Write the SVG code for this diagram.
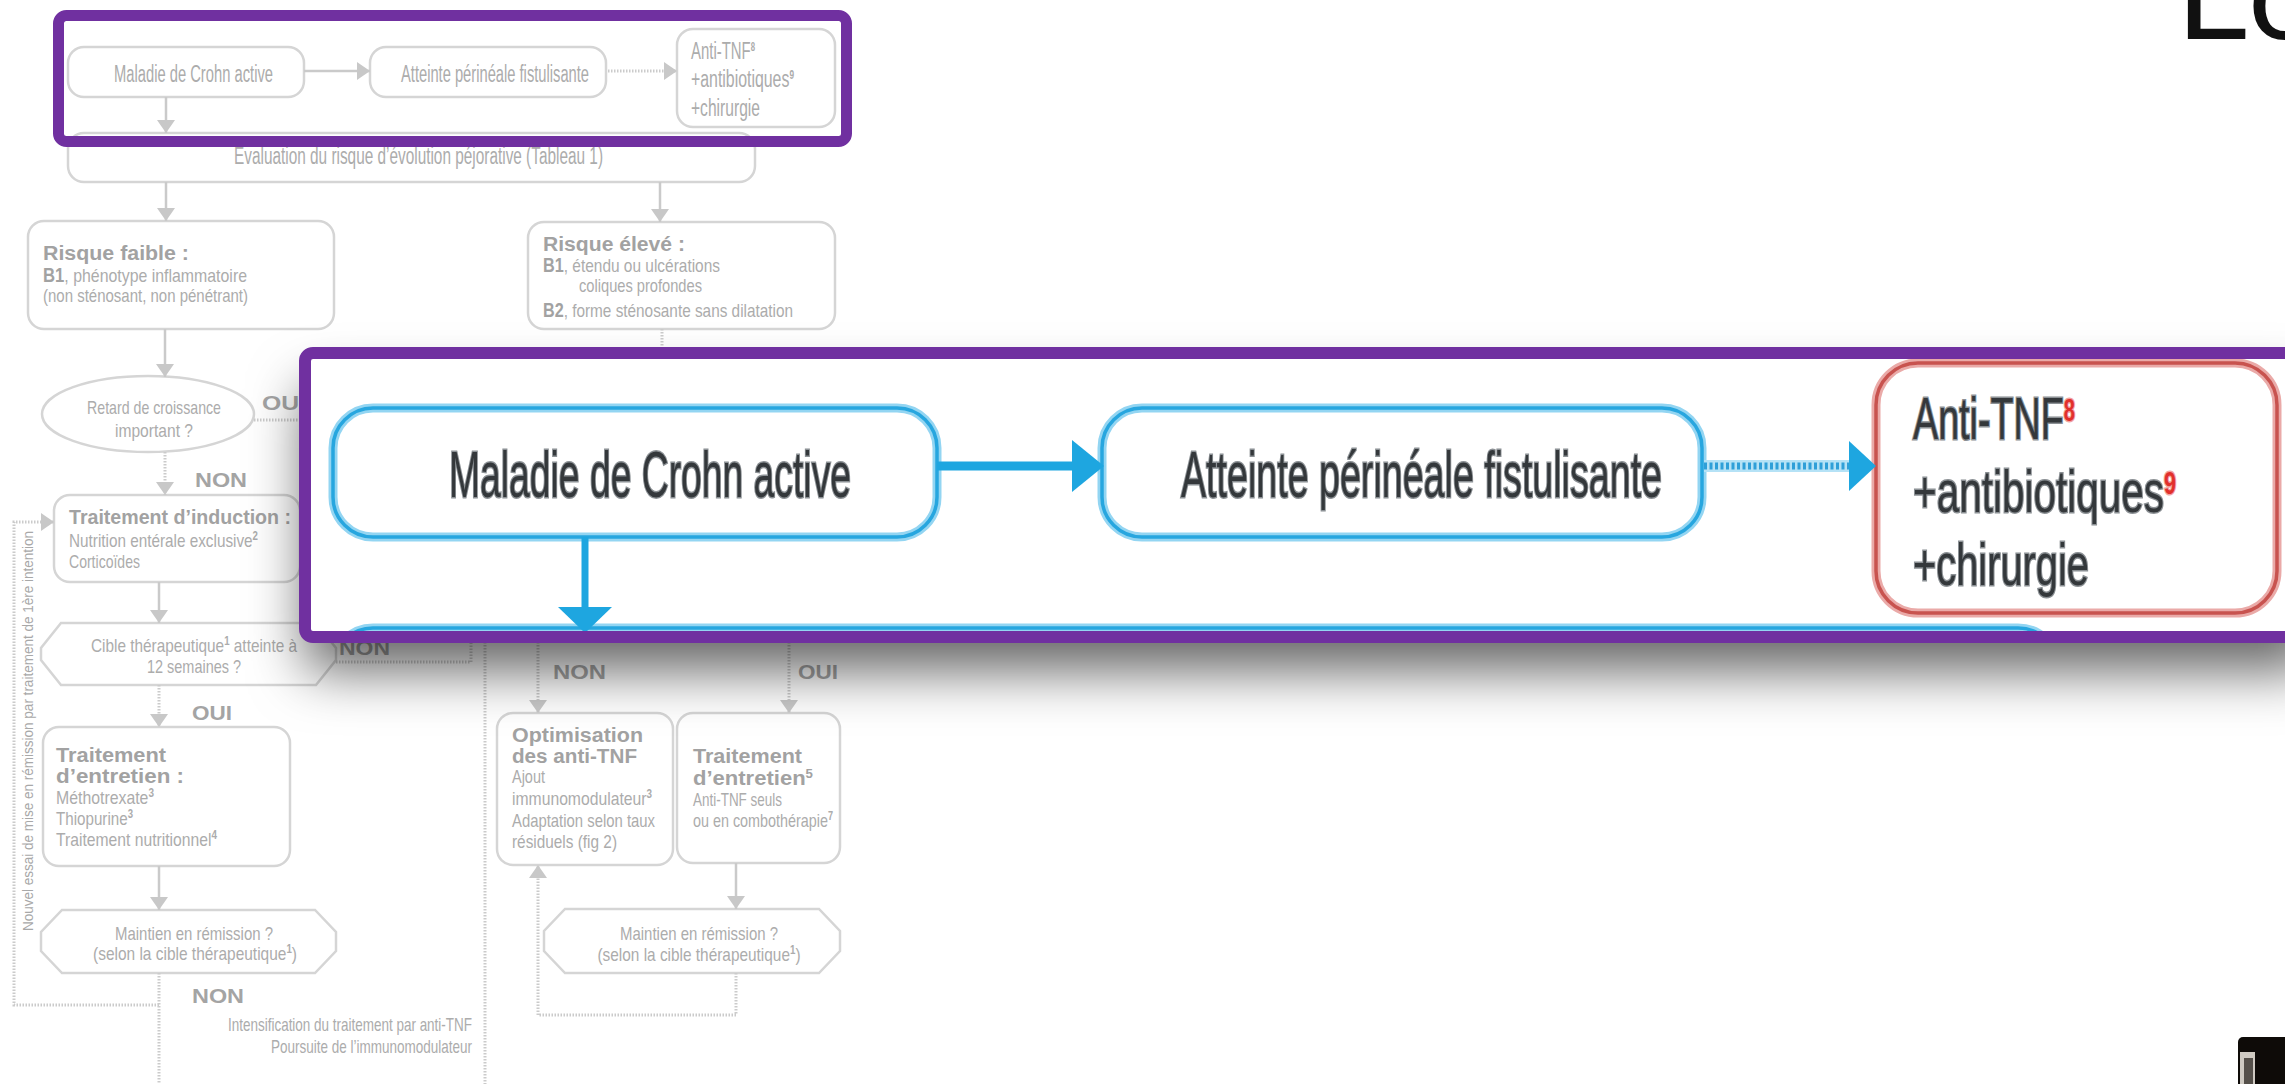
<svg xmlns="http://www.w3.org/2000/svg" width="2285" height="1084" viewBox="0 0 2285 1084">
<defs>
<style>
.bx{fill:#fff;stroke:#d5d5d5;stroke-width:2.5}
.t{font-family:"Liberation Sans",Arial,sans-serif;font-size:19px;fill:#acacac}
.tl{font-family:"Liberation Sans",Arial,sans-serif;font-size:23px;fill:#acacac}
.tb{font-family:"Liberation Sans",Arial,sans-serif;font-size:20px;font-weight:bold;fill:#a2a2a2}
.lb{font-family:"Liberation Sans",Arial,sans-serif;font-size:21px;font-weight:bold;fill:#a4a4a4}
.b{font-weight:bold;font-size:20px;fill:#a2a2a2}
.sup{font-size:12px;font-weight:bold}
.ln{fill:none;stroke:#cacaca;stroke-width:2.5}
.dt{fill:none;stroke:#cbcbcb;stroke-width:3;stroke-dasharray:1.5 1.5}
.rot{font-family:"Liberation Sans",Arial,sans-serif;font-size:15px;fill:#a8a8a8}
.cb{fill:#fff;stroke:#93d5f2;stroke-width:9}
.cbl{fill:none;stroke:#27a6df;stroke-width:3.5}
.cr{fill:#fff;stroke:#eaaaa8;stroke-width:9}
.crl{fill:none;stroke:#c8534f;stroke-width:3.5}
.ct{font-family:"Liberation Sans",Arial,sans-serif;font-size:64px;fill:#34383b;stroke:#8c9195;stroke-width:3;paint-order:stroke}
.cs{fill:#e2302c;stroke:#f1a3a1;font-weight:bold}
.ca{fill:#1ea6e0}
.frame{fill:none;stroke:#7030a0}
</style>
<marker id="ah" markerUnits="userSpaceOnUse" markerWidth="14" markerHeight="20" refX="13" refY="10" orient="auto">
<path d="M0,1 L13,10 L0,19 z" fill="#c8c8c8"/>
</marker>
<filter id="sh" x="-5%" y="-40%" width="110%" height="200%">
<feDropShadow dx="0" dy="34" stdDeviation="27" flood-color="#000" flood-opacity="0.6"/>
</filter>
<clipPath id="loupeClip"><rect x="305" y="353" width="1990" height="284"/></clipPath>
</defs>

<rect width="2285" height="1084" fill="#fff"/>

<!-- faded flowchart: nodes -->
<g id="n-crohn"><rect class="bx" x="68" y="47" width="236" height="50" rx="16"/>
<text class="tl" x="114" y="82" textLength="159" lengthAdjust="spacingAndGlyphs">Maladie de Crohn active</text></g>
<g id="n-perineale"><rect class="bx" x="370" y="47" width="236" height="50" rx="16"/>
<text class="tl" x="401" y="82" textLength="188" lengthAdjust="spacingAndGlyphs">Atteinte périnéale fistulisante</text></g>
<g id="n-antitnf"><rect class="bx" x="677" y="29" width="158" height="98" rx="16"/>
<text class="tl" x="691" y="59" textLength="64" lengthAdjust="spacingAndGlyphs">Anti-TNF<tspan class="sup" dy="-8">8</tspan></text>
<text class="tl" x="691" y="87" textLength="103" lengthAdjust="spacingAndGlyphs">+antibiotiques<tspan class="sup" dy="-8">9</tspan></text>
<text class="tl" x="691" y="116" textLength="69" lengthAdjust="spacingAndGlyphs">+chirurgie</text></g>
<g id="n-evaluation"><rect class="bx" x="68" y="133" width="687" height="49" rx="16"/>
<text class="tl" x="234" y="164" textLength="369" lengthAdjust="spacingAndGlyphs">Évaluation du risque d’évolution péjorative (Tableau 1)</text></g>
<g id="n-risque-faible"><rect class="bx" x="28" y="221" width="306" height="108" rx="16"/>
<text class="tb" x="43" y="260" textLength="146" lengthAdjust="spacingAndGlyphs">Risque faible :</text>
<text class="t" x="43" y="282" textLength="204" lengthAdjust="spacingAndGlyphs"><tspan class="b">B1</tspan>, phénotype inflammatoire</text>
<text class="t" x="43" y="302" textLength="205" lengthAdjust="spacingAndGlyphs">(non sténosant, non pénétrant)</text></g>
<g id="n-risque-eleve"><rect class="bx" x="528" y="222" width="307" height="107" rx="16"/>
<text class="tb" x="543" y="251" textLength="142" lengthAdjust="spacingAndGlyphs">Risque élevé :</text>
<text class="t" x="543" y="272" textLength="177" lengthAdjust="spacingAndGlyphs"><tspan class="b">B1</tspan>, étendu ou ulcérations</text>
<text class="t" x="579" y="292" textLength="123" lengthAdjust="spacingAndGlyphs">coliques profondes</text>
<text class="t" x="543" y="317" textLength="250" lengthAdjust="spacingAndGlyphs"><tspan class="b">B2</tspan>, forme sténosante sans dilatation</text></g>
<g id="n-retard"><ellipse class="bx" cx="148" cy="414" rx="106" ry="38"/>
<text class="t" x="154" y="414" text-anchor="middle" textLength="134" lengthAdjust="spacingAndGlyphs">Retard de croissance</text>
<text class="t" x="154" y="437" text-anchor="middle" textLength="78" lengthAdjust="spacingAndGlyphs">important ?</text></g>
<g id="n-induction"><rect class="bx" x="54" y="495" width="246" height="87" rx="16"/>
<text class="tb" x="69" y="524" textLength="222" lengthAdjust="spacingAndGlyphs">Traitement d’induction :</text>
<text class="t" x="69" y="547" textLength="189" lengthAdjust="spacingAndGlyphs">Nutrition entérale exclusive<tspan class="sup" dy="-7">2</tspan></text>
<text class="t" x="69" y="568" textLength="71" lengthAdjust="spacingAndGlyphs">Corticoïdes</text></g>
<g id="n-cible"><polygon class="bx" points="61,623 316,623 336,648 336,660 316,685 61,685 41,660 41,648"/>
<text class="t" x="194" y="652" text-anchor="middle" textLength="206" lengthAdjust="spacingAndGlyphs">Cible thérapeutique<tspan class="sup" dy="-7">1</tspan><tspan dy="7"> atteinte à</tspan></text>
<text class="t" x="194" y="673" text-anchor="middle" textLength="94" lengthAdjust="spacingAndGlyphs">12 semaines ?</text></g>
<g id="n-entretien"><rect class="bx" x="43" y="727" width="247" height="139" rx="16"/>
<text class="tb" x="56" y="762" textLength="110" lengthAdjust="spacingAndGlyphs">Traitement</text>
<text class="tb" x="56" y="783" textLength="128" lengthAdjust="spacingAndGlyphs">d’entretien :</text>
<text class="t" x="56" y="804" textLength="98" lengthAdjust="spacingAndGlyphs">Méthotrexate<tspan class="sup" dy="-7">3</tspan></text>
<text class="t" x="56" y="825" textLength="77" lengthAdjust="spacingAndGlyphs">Thiopurine<tspan class="sup" dy="-7">3</tspan></text>
<text class="t" x="56" y="846" textLength="161" lengthAdjust="spacingAndGlyphs">Traitement nutritionnel<tspan class="sup" dy="-7">4</tspan></text></g>
<g id="n-maintien-1"><polygon class="bx" points="62,910 315,910 336,932 336,951 315,973 62,973 41,951 41,932"/>
<text class="t" x="194" y="940" text-anchor="middle" textLength="158" lengthAdjust="spacingAndGlyphs">Maintien en rémission ?</text>
<text class="t" x="195" y="960" text-anchor="middle" textLength="204" lengthAdjust="spacingAndGlyphs">(selon la cible thérapeutique<tspan class="sup" dy="-7">1</tspan><tspan dy="7">)</tspan></text></g>
<g id="n-optimisation"><rect class="bx" x="497" y="713" width="176" height="152" rx="16"/>
<text class="tb" x="512" y="742" textLength="131" lengthAdjust="spacingAndGlyphs">Optimisation</text>
<text class="tb" x="512" y="763" textLength="125" lengthAdjust="spacingAndGlyphs">des anti-TNF</text>
<text class="t" x="512" y="783" textLength="33" lengthAdjust="spacingAndGlyphs">Ajout</text>
<text class="t" x="512" y="805" textLength="140" lengthAdjust="spacingAndGlyphs">immunomodulateur<tspan class="sup" dy="-7">3</tspan></text>
<text class="t" x="512" y="827" textLength="143" lengthAdjust="spacingAndGlyphs">Adaptation selon taux</text>
<text class="t" x="512" y="848" textLength="105" lengthAdjust="spacingAndGlyphs">résiduels (fig 2)</text></g>
<g id="n-entretien-antitnf"><rect class="bx" x="677" y="713" width="163" height="150" rx="16"/>
<text class="tb" x="693" y="763" textLength="109" lengthAdjust="spacingAndGlyphs">Traitement</text>
<text class="tb" x="693" y="785" textLength="120" lengthAdjust="spacingAndGlyphs">d’entretien<tspan class="sup" dy="-7">5</tspan></text>
<text class="t" x="693" y="806" textLength="89" lengthAdjust="spacingAndGlyphs">Anti-TNF seuls</text>
<text class="t" x="693" y="827" textLength="140" lengthAdjust="spacingAndGlyphs">ou en combothérapie<tspan class="sup" dy="-7">7</tspan></text></g>
<g id="n-maintien-2"><polygon class="bx" points="565,909 819,909 840,931 840,951 819,973 565,973 544,951 544,931"/>
<text class="t" x="699" y="940" text-anchor="middle" textLength="158" lengthAdjust="spacingAndGlyphs">Maintien en rémission ?</text>
<text class="t" x="699" y="961" text-anchor="middle" textLength="203" lengthAdjust="spacingAndGlyphs">(selon la cible thérapeutique<tspan class="sup" dy="-7">1</tspan><tspan dy="7">)</tspan></text></g>

<!-- faded flowchart: connectors and their labels -->
<g id="connectors">
<line class="ln" x1="304" y1="71" x2="370" y2="71" marker-end="url(#ah)"/>
<line class="dt" x1="608" y1="71" x2="677" y2="71" marker-end="url(#ah)"/>
<line class="ln" x1="166" y1="97" x2="166" y2="133" marker-end="url(#ah)"/>
<line class="ln" x1="166" y1="182" x2="166" y2="221" marker-end="url(#ah)"/>
<line class="ln" x1="660" y1="182" x2="660" y2="222" marker-end="url(#ah)"/>
<line class="dt" x1="662" y1="329" x2="662" y2="370"/>
<line class="ln" x1="165" y1="329" x2="165" y2="377" marker-end="url(#ah)"/>
<line class="dt" x1="254" y1="420" x2="330" y2="420"/>
<line class="dt" x1="165" y1="452" x2="165" y2="495" marker-end="url(#ah)"/>
<line class="ln" x1="159" y1="582" x2="159" y2="623" marker-end="url(#ah)"/>
<path class="dt" d="M336,662 H471 V600"/>
<line class="dt" x1="159" y1="685" x2="159" y2="727" marker-end="url(#ah)"/>
<line class="ln" x1="159" y1="866" x2="159" y2="910" marker-end="url(#ah)"/>
<line class="dt" x1="159" y1="973" x2="159" y2="1084"/>
<path class="dt" d="M159,1005 H14 V522 H54" marker-end="url(#ah)"/>
<line class="dt" x1="485" y1="600" x2="485" y2="1084"/>
<line class="dt" x1="538" y1="600" x2="538" y2="713" marker-end="url(#ah)"/>
<line class="dt" x1="789" y1="600" x2="789" y2="713" marker-end="url(#ah)"/>
<line class="ln" x1="736" y1="863" x2="736" y2="909" marker-end="url(#ah)"/>
<path class="dt" d="M736,973 V1015 H538 V865" marker-end="url(#ah)"/>
<g id="edge-labels">
<text class="lb" x="262" y="410" textLength="44" lengthAdjust="spacingAndGlyphs">OUI</text>
<text class="lb" x="195" y="487" textLength="52" lengthAdjust="spacingAndGlyphs">NON</text>
<text class="lb" x="339" y="655" textLength="51" lengthAdjust="spacingAndGlyphs">NON</text>
<text class="lb" x="192" y="720" textLength="40" lengthAdjust="spacingAndGlyphs">OUI</text>
<text class="lb" x="192" y="1003" textLength="52" lengthAdjust="spacingAndGlyphs">NON</text>
<text class="lb" x="553" y="679" textLength="53" lengthAdjust="spacingAndGlyphs">NON</text>
<text class="lb" x="798" y="679" textLength="40" lengthAdjust="spacingAndGlyphs">OUI</text>
<text class="rot" transform="translate(33,731) rotate(-90)" text-anchor="middle" textLength="400" lengthAdjust="spacingAndGlyphs">Nouvel essai de mise en rémission par traitement de 1ère intention</text>
<text class="t" x="472" y="1031" text-anchor="end" textLength="244" lengthAdjust="spacingAndGlyphs">Intensification du traitement par anti-TNF</text>
<text class="t" x="472" y="1053" text-anchor="end" textLength="201" lengthAdjust="spacingAndGlyphs">Poursuite de l’immunomodulateur</text>
</g>
</g>

<!-- highlight frame around the top row -->
<rect id="focus-frame" class="frame" x="58.5" y="15.5" width="788" height="126" rx="8" stroke-width="11"/>

<!-- magnified view of the top row -->
<g id="loupe">
<rect x="305" y="353" width="2010" height="284" rx="8" fill="#fff" filter="url(#sh)"/>
<g clip-path="url(#loupeClip)">
<g id="z-crohn"><rect class="cb" x="333" y="408" width="604" height="129" rx="40"/><rect class="cbl" x="333" y="408" width="604" height="129" rx="40"/>
<text class="ct" x="449" y="497" textLength="402" lengthAdjust="spacingAndGlyphs">Maladie de Crohn active</text></g>
<g id="z-perineale"><rect class="cb" x="1102" y="408" width="600" height="129" rx="40"/><rect class="cbl" x="1102" y="408" width="600" height="129" rx="40"/>
<text class="ct" x="1181" y="497" textLength="481" lengthAdjust="spacingAndGlyphs">Atteinte périnéale fistulisante</text></g>
<g id="z-antitnf"><rect class="cr" x="1876" y="363" width="401" height="250" rx="42"/><rect class="crl" x="1876" y="363" width="401" height="250" rx="42"/>
<text class="ct" x="1913" y="439" style="font-size:60px" textLength="162" lengthAdjust="spacingAndGlyphs">Anti-TNF<tspan class="cs" style="font-size:32px" dy="-18">8</tspan></text>
<text class="ct" x="1913" y="512" style="font-size:60px" textLength="263" lengthAdjust="spacingAndGlyphs">+antibiotiques<tspan class="cs" style="font-size:32px" dy="-18">9</tspan></text>
<text class="ct" x="1913" y="585" style="font-size:60px" textLength="176" lengthAdjust="spacingAndGlyphs">+chirurgie</text></g>
<g id="z-evaluation"><rect class="cb" x="333" y="628" width="1725" height="130" rx="40"/><rect class="cbl" x="333" y="628" width="1725" height="130" rx="40"/></g>
<g id="z-connectors">
<line x1="937" y1="466" x2="1076" y2="466" stroke="#1ea6e0" stroke-width="9"/>
<polygon class="ca" points="1072,440 1104,466 1072,492"/>
<line x1="1704" y1="466" x2="1852" y2="466" stroke="#b5e2f6" stroke-width="12"/>
<line x1="1704" y1="466" x2="1852" y2="466" stroke="#2f9fd8" stroke-width="7" stroke-dasharray="3 2.5"/>
<polygon class="ca" points="1849,441 1876,466 1849,491"/>
<line x1="585" y1="537" x2="585" y2="612" stroke="#1ea6e0" stroke-width="7"/>
<polygon class="ca" points="558,607 612,607 585,633"/>
</g>
</g>
<rect class="frame" x="305" y="353" width="2010" height="284" rx="8" stroke-width="12"/>
</g>

<!-- corner logo, partly outside the page -->
<text x="2176" y="39" font-family="Lato, 'Liberation Sans', sans-serif" font-weight="400" font-size="130" fill="#111">Eo</text>

<!-- corner thumbnail -->
<g id="thumb">
<rect x="2238" y="1037" width="60" height="60" rx="5" fill="#0e0b08"/>
<rect x="2240" y="1052" width="15" height="32" fill="#cfcac2"/>
<rect x="2244" y="1058" width="9" height="26" fill="#55504a"/>
</g>
</svg>
